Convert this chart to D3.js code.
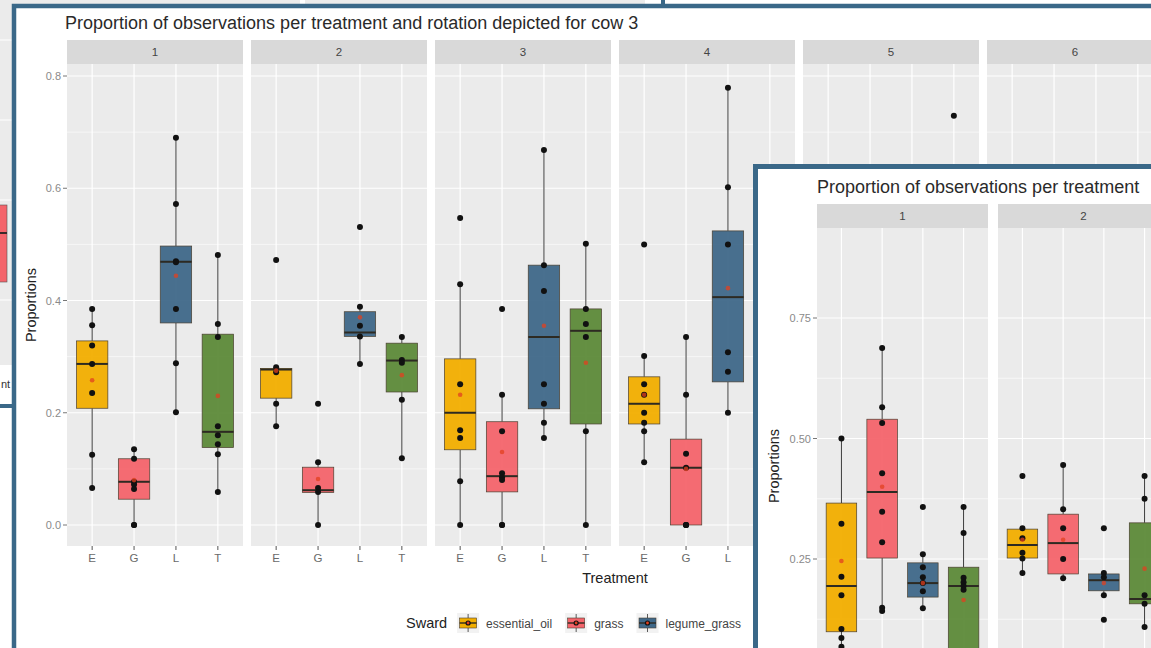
<!DOCTYPE html>
<html>
<head>
<meta charset="utf-8">
<script src="https://cdn.jsdelivr.net/npm/d3@7"></script>
<style>
  body { margin: 0; background: #ffffff; }
  svg { display: block; }
  text { font-family: "Liberation Sans", Arial, sans-serif; }
</style>
</head>
<body>
<svg id="chart" width="1151" height="648"></svg>
<script>
// ---------- shared categories ----------
const treatments = ["E", "G", "L", "T"];
const swardLabels = ["essential_oil", "grass", "legume_grass"];
const swardColors = ["#F2AE00", "#F4646B", "#3F6889", "#5D8A39"];

// ---------- cow 3: rotations 1-6 ----------
const cowRotations = ["1", "2", "3", "4", "5", "6"];
const cowLower  = [[0.066, 0, 0.201, 0.059], [0.176, 0, 0.287, 0.119], [0, 0, 0.155, 0], [0.112, 0, 0.2, null], [null, null, null, null], [null, null, null, null]];
const cowQ1     = [[0.208, 0.046, 0.36, 0.138], [0.226, 0.058, 0.336, 0.237], [0.134, 0.059, 0.207, 0.18], [0.18, 0, 0.255, null], [null, null, null, null], [null, null, null, null]];
const cowMedian = [[0.287, 0.077, 0.469, 0.166], [0.277, 0.062, 0.343, 0.293], [0.2, 0.087, 0.335, 0.346], [0.216, 0.102, 0.406, null], [null, null, null, null], [null, null, null, null]];
const cowQ3     = [[0.328, 0.118, 0.497, 0.34], [0.279, 0.103, 0.38, 0.324], [0.296, 0.184, 0.463, 0.385], [0.264, 0.153, 0.524, null], [null, null, null, null], [null, null, null, null]];
const cowUpper  = [[0.385, 0.135, 0.69, 0.481], [0.281, 0.112, 0.389, 0.335], [0.429, 0.232, 0.668, 0.501], [0.301, 0.335, 0.779, null], [null, null, null, null], [null, null, null, null]];
const cowMean   = [[0.258, 0.08, 0.444, 0.23], [0.275, 0.082, 0.37, 0.267], [0.232, 0.13, 0.355, 0.289], [0.232, 0.1, 0.422, null], [null, null, null, null], [null, null, null, null]];
const cowPoints = [
  [[0.385, 0.356, 0.32, 0.287, 0.235, 0.125, 0.066], [0.135, 0.118, 0.077, 0.072, 0.064, 0, 0], [0.69, 0.572, 0.47, 0.468, 0.385, 0.288, 0.201], [0.481, 0.358, 0.335, 0.176, 0.16, 0.144, 0.126, 0.059]],
  [[0.472, 0.281, 0.272, 0.216, 0.176], [0.216, 0.112, 0.066, 0.059, 0], [0.531, 0.389, 0.355, 0.336, 0.287], [0.335, 0.294, 0.289, 0.223, 0.119]],
  [[0.547, 0.429, 0.251, 0.169, 0.155, 0.078, 0], [0.385, 0.232, 0.167, 0.092, 0.085, 0.08, 0, 0], [0.668, 0.463, 0.417, 0.251, 0.216, 0.182, 0.155], [0.501, 0.385, 0.358, 0.335, 0.167, 0]],
  [[0.5, 0.301, 0.251, 0.232, 0.2, 0.182, 0.167, 0.112], [0.335, 0.232, 0.127, 0.102, 0, 0, 0], [0.779, 0.602, 0.5, 0.308, 0.273, 0.2], []],
  [[], [], [], [0.729]],
  [[], [], [], []]
];
const cowTicks = [0, 0.2, 0.4, 0.6, 0.8];
const cowMinor = [0.1, 0.3, 0.5, 0.7];

// ---------- all cows: rotations 1-2 ----------
const allRotations = ["1", "2"];
const allLower  = [[0.03, 0.144, 0.148, 0], [0.221, 0.21, 0.175, 0.109]];
const allQ1     = [[0.099, 0.252, 0.171, 0.04], [0.252, 0.219, 0.184, 0.157]];
const allMedian = [[0.194, 0.389, 0.2, 0.194], [0.279, 0.283, 0.206, 0.167]];
const allQ3     = [[0.366, 0.54, 0.242, 0.233], [0.312, 0.343, 0.219, 0.325]];
const allUpper  = [[0.5, 0.688, 0.26, 0.358], [0.314, 0.445, 0.221, 0.422]];
const allMean   = [[0.246, 0.4, 0.2, 0.165], [0.29, 0.29, 0.2, 0.23]];
const allPoints = [
  [[0.5, 0.323, 0.213, 0.175, 0.105, 0.086, 0.068], [0.688, 0.565, 0.532, 0.428, 0.348, 0.285, 0.149, 0.142], [0.358, 0.26, 0.233, 0.212, 0.2, 0.183, 0.148], [0.358, 0.304, 0.211, 0.202, 0.194, 0.186, 0.03]],
  [[0.422, 0.314, 0.293, 0.263, 0.251, 0.221], [0.445, 0.353, 0.314, 0.25, 0.21], [0.314, 0.221, 0.212, 0.175, 0.124], [0.422, 0.375, 0.175, 0.157, 0.109]]
];
const allTicks = [0.25, 0.5, 0.75];
const allMinor = [0.125, 0.375, 0.625];

const svg = d3.select("#chart");
const frameColor = "#3A6888";

// ---------- window behind both plots ----------
const back = svg.append("g");
back.append("rect").attr("x", -20).attr("y", -20).attr("width", 683).attr("height", 426).attr("fill", "#ffffff");
back.append("rect").attr("x", -20).attr("y", -20).attr("width", 320).attr("height", 385).attr("fill", "#EBEBEB");
back.append("rect").attr("x", 305).attr("y", -20).attr("width", 340).attr("height", 24).attr("fill", "#EBEBEB");
[40, 120, 200, 300].forEach(yv => back.append("line").attr("x1", -20).attr("x2", 12).attr("y1", yv).attr("y2", yv).attr("stroke", "#fff").attr("stroke-width", 1));
back.append("rect").attr("x", -30).attr("y", 205).attr("width", 37).attr("height", 77).attr("fill", swardColors[1]).attr("stroke", "#555").attr("stroke-width", 0.6);
back.append("line").attr("x1", -30).attr("x2", 7).attr("y1", 233).attr("y2", 233).attr("stroke", "#3a2a2a").attr("stroke-width", 1.8);
back.append("text").attr("x", 1).attr("y", 388).attr("font-size", 11).attr("fill", "#333").text("nt");
back.append("rect").attr("x", -20).attr("y", -20).attr("width", 683).attr("height", 426)
  .attr("fill", "none").attr("stroke", frameColor).attr("stroke-width", 4);

// ---------- faceted boxplot drawing ----------
function drawFacets(g, o) {
  const y = d3.scaleLinear().domain(o.yDomain).range(o.yRange);
  const x = d3.scalePoint().domain(treatments).range([0, o.panelW]).padding(0.6);
  const bw = x.step() * 0.75;

  g.append("text").attr("x", o.titleX).attr("y", o.titleY)
    .attr("font-size", 18).attr("fill", "#2a2a2a").text(o.title);

  o.rotations.forEach((rot, r) => {
    const px = o.panelX + r * o.panelStep;
    const p = g.append("g").attr("transform", `translate(${px},0)`);
    // strip
    p.append("rect").attr("x", 0).attr("y", o.stripTop).attr("width", o.panelW).attr("height", o.panelTop - o.stripTop).attr("fill", "#D9D9D9");
    p.append("text").attr("x", o.panelW / 2).attr("y", (o.stripTop + o.panelTop) / 2 + 4)
      .attr("text-anchor", "middle").attr("font-size", 11.5).attr("fill", "#444").text(rot);
    // panel background and grid
    p.append("rect").attr("x", 0).attr("y", o.panelTop).attr("width", o.panelW).attr("height", o.panelBottom - o.panelTop).attr("fill", "#EBEBEB");
    o.minor.forEach(v => p.append("line").attr("x1", 0).attr("x2", o.panelW).attr("y1", y(v)).attr("y2", y(v)).attr("stroke", "#fff").attr("stroke-width", 0.6));
    o.ticks.forEach(v => p.append("line").attr("x1", 0).attr("x2", o.panelW).attr("y1", y(v)).attr("y2", y(v)).attr("stroke", "#fff").attr("stroke-width", 1.2));
    treatments.forEach(t => p.append("line").attr("x1", x(t)).attr("x2", x(t)).attr("y1", o.panelTop).attr("y2", o.panelBottom).attr("stroke", "#fff").attr("stroke-width", 1.2));
    // x axis ticks and labels
    if (o.xLabelY) {
      treatments.forEach(t => {
        p.append("line").attr("x1", x(t)).attr("x2", x(t)).attr("y1", o.panelBottom).attr("y2", o.panelBottom + 4).attr("stroke", "#555").attr("stroke-width", 1);
        p.append("text").attr("x", x(t)).attr("y", o.xLabelY).attr("text-anchor", "middle").attr("font-size", 11.5).attr("fill", "#6a6a6a").text(t);
      });
    }
    // boxes
    treatments.forEach((t, c) => {
      const cx = x(t);
      const lo = o.lower[r][c], q1 = o.q1[r][c], md = o.median[r][c], q3 = o.q3[r][c], hi = o.upper[r][c];
      if (lo != null) {
        p.append("line").attr("x1", cx).attr("x2", cx).attr("y1", y(hi)).attr("y2", y(q3)).attr("stroke", "#3a3a3a").attr("stroke-width", 1);
        p.append("line").attr("x1", cx).attr("x2", cx).attr("y1", y(q1)).attr("y2", y(lo)).attr("stroke", "#3a3a3a").attr("stroke-width", 1);
        p.append("rect").attr("x", cx - bw / 2).attr("y", y(q3)).attr("width", bw).attr("height", Math.max(1, y(q1) - y(q3)))
          .attr("fill", swardColors[c]).attr("fill-opacity", 0.95).attr("stroke", "#4a3f30").attr("stroke-width", 0.7);
        p.append("line").attr("x1", cx - bw / 2).attr("x2", cx + bw / 2).attr("y1", y(md)).attr("y2", y(md)).attr("stroke", "#2d2a22").attr("stroke-width", 2);
      }
      o.points[r][c].forEach(v => p.append("circle").attr("cx", cx).attr("cy", y(v)).attr("r", 3).attr("fill", "#111"));
      const m = o.mean[r][c];
      if (m != null) p.append("circle").attr("cx", cx).attr("cy", y(m)).attr("r", 2.3).attr("fill", "#E2401F").attr("fill-opacity", 0.75);
    });
  });

  // y axis
  o.ticks.forEach(v => {
    g.append("line").attr("x1", o.panelX - 4).attr("x2", o.panelX).attr("y1", y(v)).attr("y2", y(v)).attr("stroke", "#777").attr("stroke-width", 1);
    g.append("text").attr("x", o.panelX - 6).attr("y", y(v) + 4).attr("text-anchor", "end")
      .attr("font-size", 11).attr("fill", "#8a8a8a").text(o.format(v));
  });
  g.append("text").attr("transform", `translate(${o.yTitleX},${o.yTitleY}) rotate(-90)`)
    .attr("text-anchor", "middle").attr("font-size", 14.5).attr("fill", "#222").text("Proportions");
}

// ---------- cow 3 plot ----------
const mainG = svg.append("g");
mainG.append("rect").attr("x", 14).attr("y", 6).attr("width", 1200).attr("height", 700)
  .attr("fill", "#ffffff").attr("stroke", frameColor).attr("stroke-width", 4.5);
drawFacets(mainG, {
  title: "Proportion of observations per treatment and rotation depicted for cow 3",
  titleX: 65, titleY: 29,
  rotations: cowRotations, lower: cowLower, q1: cowQ1, median: cowMedian, q3: cowQ3, upper: cowUpper, mean: cowMean, points: cowPoints,
  ticks: cowTicks, minor: cowMinor, format: d3.format(".1f"),
  yDomain: [0, 0.8], yRange: [525, 76],
  panelX: 67, panelStep: 184, panelW: 176,
  stripTop: 40, panelTop: 64, panelBottom: 546,
  xLabelY: 562, yTitleX: 36, yTitleY: 305
});
mainG.append("text").attr("x", 615).attr("y", 583).attr("text-anchor", "middle")
  .attr("font-size", 14.5).attr("fill", "#222").text("Treatment");

// legend
const leg = mainG.append("g").attr("transform", "translate(406,623)");
const legTitle = leg.append("text").attr("x", 0).attr("y", 5).attr("font-size", 14.5).attr("fill", "#222").text("Sward");
let lx = legTitle.node().getComputedTextLength() + 10;
swardLabels.forEach((lab, i) => {
  const k = leg.append("g").attr("transform", `translate(${lx},-10)`);
  k.append("rect").attr("width", 22).attr("height", 20).attr("fill", "#F2F2F2");
  k.append("line").attr("x1", 11).attr("x2", 11).attr("y1", 1).attr("y2", 19).attr("stroke", "#333").attr("stroke-width", 0.8);
  k.append("rect").attr("x", 2.5).attr("y", 5).attr("width", 17).attr("height", 10).attr("fill", swardColors[i]).attr("stroke", "#4a3f30").attr("stroke-width", 0.6);
  k.append("line").attr("x1", 2.5).attr("x2", 19.5).attr("y1", 10).attr("y2", 10).attr("stroke", "#2d2a22").attr("stroke-width", 1.4);
  k.append("circle").attr("cx", 11).attr("cy", 10).attr("r", 2.6).attr("fill", "#111");
  k.append("circle").attr("cx", 11).attr("cy", 10).attr("r", 1.4).attr("fill", "#E2401F");
  const tx = leg.append("text").attr("x", lx + 29).attr("y", 4.5).attr("font-size", 12).attr("fill", "#444").text(lab);
  lx += 29 + tx.node().getComputedTextLength() + 13;
});

// ---------- all cows plot ----------
const insetG = svg.append("g");
insetG.append("rect").attr("x", 755.5).attr("y", 166.5).attr("width", 500).attr("height", 600)
  .attr("fill", "#ffffff").attr("stroke", frameColor).attr("stroke-width", 5);
drawFacets(insetG, {
  title: "Proportion of observations per treatment",
  titleX: 817, titleY: 193,
  rotations: allRotations, lower: allLower, q1: allQ1, median: allMedian, q3: allQ3, upper: allUpper, mean: allMean, points: allPoints,
  ticks: allTicks, minor: allMinor, format: d3.format(".2f"),
  yDomain: [0.25, 0.75], yRange: [559, 318],
  panelX: 817, panelStep: 181, panelW: 171,
  stripTop: 204, panelTop: 228, panelBottom: 720,
  xLabelY: null, yTitleX: 779, yTitleY: 466
});
</script>
</body>
</html>
